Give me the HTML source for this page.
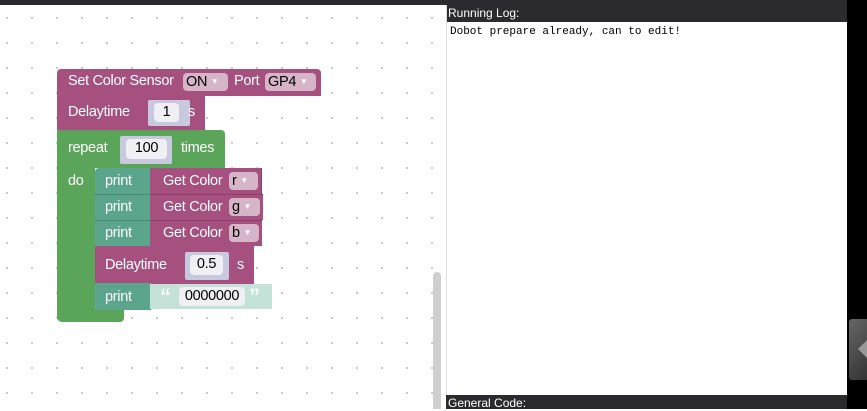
<!DOCTYPE html>
<html><head><meta charset="utf-8"><style>
*{margin:0;padding:0;box-sizing:border-box}
body{width:867px;height:409px;overflow:hidden;background:#fff;position:relative;font-family:"Liberation Sans",Arial,sans-serif}
.a{position:absolute}
.grid{left:0;top:5px;width:446px;height:404px;background-image:radial-gradient(circle,#c8c8c8 1px,transparent 1.3px);background-size:25px 25px;background-position:-5.5px 0.5px}
.m{background:#a5507e}
.t{background:#5ba58c}
.g{background:#5ba55b}
.tx{color:#fff;font-size:14.5px;line-height:17px;letter-spacing:-0.3px}
.f{background:#d7b5c8;color:#000;border-radius:4px;font-size:14.5px;line-height:18px;padding:0 3px;letter-spacing:-0.3px}
.sock{background:#c8c8de;border-radius:2px}
.w{background:#f0f0f4;color:#000;border-radius:4px;font-size:14.5px;line-height:19px;text-align:center;letter-spacing:-0.3px}
.dd{font-size:8px;color:#fff;vertical-align:2px}
</style></head><body>
<div class="a" style="left:0;top:0;width:867px;height:5px;background:#2b2b2f"></div>
<div class="a grid"></div>
<div class="a" style="left:433px;top:272px;width:8px;height:137px;background:#cfcfcf;border-radius:4px 4px 0 0"></div>

<div class="a m" style="left:57px;top:69px;width:264px;height:27px;border-radius:4px 4px 0 0"></div>
<div class="a tx" style="left:68px;top:73px">Set Color Sensor</div>
<div class="a f" style="left:183px;top:73px;width:45px;height:18px">ON <span class="dd">▼</span></div>
<div class="a tx" style="left:234px;top:73px">Port</div>
<div class="a f" style="left:265px;top:73px;width:51px;height:18px">GP4 <span class="dd">▼</span></div>

<div class="a m" style="left:57px;top:95px;width:148px;height:36px"></div>
<div class="a tx" style="left:68px;top:104px">Delaytime</div>
<div class="a sock" style="left:148px;top:100px;width:42px;height:26px"></div>
<div class="a w" style="left:154px;top:103px;width:25px;height:19px">1</div>
<div class="a tx" style="left:188px;top:104px">s</div>

<div class="a g" style="left:57px;top:130px;width:168px;height:38px;border-radius:0 4px 0 0"></div>
<div class="a g" style="left:57px;top:130px;width:38px;height:190px;border-radius:0 0 0 5px"></div>
<div class="a g" style="left:57px;top:308px;width:67px;height:14px;border-radius:0 0 4px 5px"></div>
<div class="a tx" style="left:68px;top:140px">repeat</div>
<div class="a sock" style="left:120px;top:136px;width:52px;height:28px"></div>
<div class="a w" style="left:126px;top:139px;width:41px;height:20px">100</div>
<div class="a tx" style="left:181px;top:140px">times</div>
<div class="a tx" style="left:68px;top:173px">do</div>

<div class="a t" style="left:95px;top:168px;width:56px;height:78px;border-radius:4px 0 0 0"></div>
<div class="a m" style="left:150px;top:168px;width:112px;height:26px;border-right:1px solid #8a3f68"></div>
<div class="a m" style="left:150px;top:194px;width:113px;height:26px;border-top:1px solid #8a3f68"></div>
<div class="a m" style="left:150px;top:220px;width:112px;height:26px;border-top:1px solid #8a3f68"></div>
<div class="a" style="left:95px;top:194px;width:56px;height:1px;background:#4a8a74"></div>
<div class="a" style="left:95px;top:220px;width:56px;height:1px;background:#4a8a74"></div>
<div class="a tx" style="left:105px;top:173px">print</div>
<div class="a tx" style="left:105px;top:199px">print</div>
<div class="a tx" style="left:105px;top:225px">print</div>
<div class="a tx" style="left:163px;top:173px">Get Color</div>
<div class="a tx" style="left:163px;top:199px">Get Color</div>
<div class="a tx" style="left:163px;top:225px">Get Color</div>
<div class="a f" style="left:229px;top:172px;width:29px;height:18px">r <span class="dd">▼</span></div>
<div class="a f" style="left:229px;top:198px;width:31px;height:18px">g <span class="dd">▼</span></div>
<div class="a f" style="left:229px;top:224px;width:30px;height:18px">b <span class="dd">▼</span></div>

<div class="a m" style="left:95px;top:246px;width:159px;height:38px"></div>
<div class="a tx" style="left:105px;top:257px">Delaytime</div>
<div class="a sock" style="left:185px;top:252px;width:44px;height:28px"></div>
<div class="a w" style="left:190px;top:255px;width:33px;height:20px">0.5</div>
<div class="a tx" style="left:237px;top:257px">s</div>

<div class="a t" style="left:95px;top:283px;width:56px;height:27px;border-radius:0 0 0 4px"></div>
<div class="a tx" style="left:105px;top:289px">print</div>
<div class="a" style="left:150px;top:284px;width:122px;height:25px;background:#c5e2d8"></div>
<div class="a tx" style="left:160px;top:286px;font-size:22px;line-height:22px;font-weight:bold;color:#f4fbf8">“</div>
<div class="a w" style="left:179px;top:287px;width:66px;height:19px">0000000</div>
<div class="a tx" style="left:249px;top:286px;font-size:22px;line-height:22px;font-weight:bold;color:#f4fbf8">”</div>

<div class="a" style="left:446px;top:5px;width:401px;height:17px;background:#2b2b2f;color:#fff;font-size:12px;line-height:17px;padding-left:2px">Running Log:</div>
<div class="a" style="left:446px;top:5px;width:1px;height:404px;background:#ddd"></div>
<div class="a" style="left:450px;top:26px;font-family:'Liberation Mono',monospace;font-size:11px;color:#000">Dobot prepare already, can to edit!</div>
<div class="a" style="left:446px;top:395px;width:401px;height:14px;background:#2b2b2f;color:#fff;font-size:12px;line-height:16px;padding-left:2px">General Code:</div>
<div class="a" style="left:847px;top:0;width:20px;height:409px;background:#000"></div>
<div class="a" style="left:849px;top:319px;width:18px;height:61px;background:linear-gradient(135deg,#666,#333);border-radius:3px 0 0 3px"></div>
<div class="a" style="left:858px;top:340px;width:0;height:0;border-top:9px solid transparent;border-bottom:9px solid transparent;border-right:9px solid #999"></div>
</body></html>
